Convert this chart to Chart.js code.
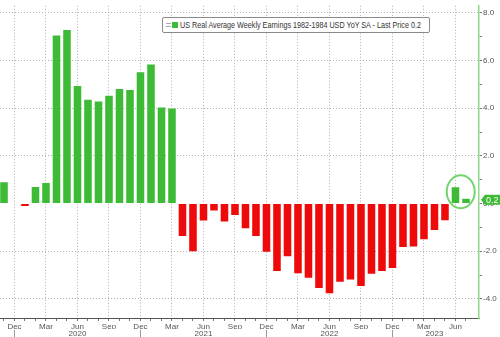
<!DOCTYPE html>
<html>
<head>
<meta charset="utf-8">
<script src="https://cdn.jsdelivr.net/npm/chart.js@4.4.1/dist/chart.umd.min.js"></script>
<style>
  html, body { margin: 0; padding: 0; background: #fff; }
  #wrap { position: relative; width: 500px; height: 337px; overflow: hidden; }
  #legend {
    position: absolute; left: 162px; top: 17px; width: 266px; height: 14px;
    border: 1px solid #8a8a8a; border-radius: 2px; background: #fff;
    font: 9px "Liberation Sans", Arial, sans-serif;
    color: #333; line-height: 14px; white-space: nowrap;
  }
  #legend .icon { position: absolute; left: 3px; top: 5px; width: 5px; height: 2px;
    border-top: 1px solid #aaa; border-bottom: 1px solid #aaa; }
  #legend .swatch { position: absolute; left: 9px; top: 4px; width: 6px; height: 6px; background: #3dbb36; }
  #legend .label { position: absolute; left: 17px; top: 0; transform: scaleX(0.8); transform-origin: 0 0; }
</style>
</head>
<body>
<div id="wrap">
  <canvas id="chart" width="500" height="337"></canvas>
  <div id="legend"><span class="icon"></span><span class="swatch"></span><span class="label">US Real Average Weekly Earnings 1982-1984 USD YoY SA - Last Price 0.2</span></div>
</div>
<script>
const months = [
  "Nov 2019", "Dec 2019",
  "Jan 2020", "Feb 2020", "Mar 2020", "Apr 2020", "May 2020", "Jun 2020",
  "Jul 2020", "Aug 2020", "Sep 2020", "Oct 2020", "Nov 2020", "Dec 2020",
  "Jan 2021", "Feb 2021", "Mar 2021", "Apr 2021", "May 2021", "Jun 2021",
  "Jul 2021", "Aug 2021", "Sep 2021", "Oct 2021", "Nov 2021", "Dec 2021",
  "Jan 2022", "Feb 2022", "Mar 2022", "Apr 2022", "May 2022", "Jun 2022",
  "Jul 2022", "Aug 2022", "Sep 2022", "Oct 2022", "Nov 2022", "Dec 2022",
  "Jan 2023", "Feb 2023", "Mar 2023", "Apr 2023", "May 2023", "Jun 2023",
  "Jul 2023"
];
// YoY %
const earnings = [
  0.9, 0.03,
  -0.1, 0.7, 0.86, 7.05, 7.28, 4.94,
  4.36, 4.28, 4.53, 4.81, 4.77, 5.51,
  5.84, 4.03, 3.99, -1.36, -2.0, -0.71,
  -0.29, -0.75, -0.48, -1.03, -1.36, -2.02,
  -2.83, -2.21, -2.92, -3.11, -3.54, -3.76,
  -3.28, -3.18, -3.46, -2.94, -2.83, -2.7,
  -1.82, -1.8, -1.5, -1.11, -0.7, 0.69,
  0.2
];
const monthTickNames = ["Dec", "Mar", "Jun", "Sep"];
const yearLabels = ["2020", "2021", "2022", "2023"];
const yearLabelAt = ["Jun 2020", "Jun 2021", "Jun 2022", "Apr 2023"];
const yearBreakAt = ["Dec 2019", "Dec 2020", "Dec 2021", "Dec 2022"];
const yTickValues = [-4, -3, -2, -1, 0, 1, 2, 3, 4, 5, 6, 7, 8];

const GREEN = "#3dbb36";
const RED = "#ee0a0a";
const GRID = "#b0b0b0";
const TEXT = "#555";
const FONT = "'Liberation Sans', Arial, sans-serif";

const lastIdx = earnings.length - 1;

const decorations = {
  id: "decorations",
  afterDraw(chart) {
    const { ctx, scales: { x, y } } = chart;

    // year separators under the month labels
    ctx.save();
    ctx.strokeStyle = "#999";
    ctx.lineWidth = 1;
    yearBreakAt.forEach((m) => {
      const px = Math.round(x.getPixelForValue(months.indexOf(m))) + 0.5;
      ctx.beginPath();
      ctx.moveTo(px, 330);
      ctx.lineTo(px, 337);
      ctx.stroke();
    });
    ctx.restore();

    // last price tag
    const last = earnings[lastIdx];
    const py = y.getPixelForValue(last) + 1;
    const left = chart.chartArea.right + 2;
    ctx.save();
    ctx.fillStyle = GREEN;
    ctx.beginPath();
    ctx.moveTo(left, py);
    ctx.lineTo(left + 4, py - 5);
    ctx.lineTo(500, py - 5);
    ctx.lineTo(500, py + 5);
    ctx.lineTo(left + 4, py + 5);
    ctx.closePath();
    ctx.fill();
    ctx.fillStyle = "#fff";
    ctx.font = "9px " + FONT;
    ctx.textBaseline = "middle";
    ctx.fillText(last.toFixed(1), left + 5, py + 0.5);
    ctx.restore();

    // hand-drawn circle round the last two readings
    const cx = (x.getPixelForValue(lastIdx - 1) + x.getPixelForValue(lastIdx)) / 2;
    const cy = y.getPixelForValue(0.5);
    ctx.save();
    ctx.strokeStyle = "#74d46c";
    ctx.lineWidth = 2;
    ctx.beginPath();
    ctx.ellipse(cx, cy, 14, 16.5, 0, 0, Math.PI * 2);
    ctx.stroke();
    ctx.restore();
  }
};

new Chart(document.getElementById("chart"), {
  type: "bar",
  data: {
    datasets: [{
      data: earnings.map((v, i) => ({ x: i, y: v })),
      backgroundColor: earnings.map((v) => (v >= 0 ? GREEN : RED)),
      borderWidth: 0,
      categoryPercentage: 0.8,
      barPercentage: 0.9
    }]
  },
  options: {
    responsive: false,
    animation: false,
    devicePixelRatio: 1,
    layout: { padding: 0 },
    plugins: { legend: { display: false }, tooltip: { enabled: false } },
    scales: {
      x: {
        type: "linear",
        position: "bottom",
        offset: false,
        min: -0.38,
        max: 45.24,
        afterBuildTicks: (scale) => {
          scale.ticks = months.map((m, i) => ({ value: i }));
        },
        afterFit: (scale) => { scale.height = 11; },
        ticks: {
          autoSkip: false,
          maxRotation: 0,
          padding: 1,
          color: TEXT,
          font: { family: FONT, size: 8 },
          callback: (v) => {
            const name = months[v] ? months[v].split(" ")[0] : "";
            return monthTickNames.includes(name) ? name : "";
          }
        },
        grid: {
          offset: false,
          color: (ctx) => {
            const m = ctx.tick && months[ctx.tick.value];
            return m && monthTickNames.includes(m.split(" ")[0]) ? GRID : "rgba(0,0,0,0)";
          },
          tickColor: "#777",
          tickLength: 3,
          tickBorderDash: []
        },
        border: { display: true, color: "#555", width: 1, dash: [1, 2] }
      },
      x2: {
        type: "linear",
        position: "bottom",
        offset: false,
        min: -0.38,
        max: 45.24,
        afterBuildTicks: (scale) => {
          scale.ticks = yearLabelAt.map((m) => ({ value: months.indexOf(m) }));
        },
        afterFit: (scale) => { scale.height = 8; },
        ticks: {
          autoSkip: false,
          maxRotation: 0,
          padding: 0,
          color: TEXT,
          font: { family: FONT, size: 8 },
          callback: (v) => yearLabels[yearLabelAt.indexOf(months[v])] || ""
        },
        grid: { display: false, drawTicks: false, offset: false },
        border: { display: false }
      },
      y: {
        position: "right",
        min: -4.8,
        max: 8.3,
        afterBuildTicks: (scale) => {
          scale.ticks = yTickValues.map((v) => ({ value: v }));
        },
        afterFit: (scale) => { scale.width = 21; },
        ticks: {
          padding: 1,
          color: TEXT,
          font: { family: FONT, size: 8 },
          callback: (v) => (v % 2 === 0 ? v.toFixed(1) : "")
        },
        grid: {
          color: (ctx) => (ctx.tick && ctx.tick.value % 2 === 0 && ctx.tick.value !== 0 ? GRID : "rgba(0,0,0,0)"),
          tickColor: "#777",
          tickLength: 3,
          tickBorderDash: []
        },
        border: { display: true, color: "#8fd98a", width: 1.5, dash: [1, 2] }
      }
    }
  },
  plugins: [decorations]
});
</script>
</body>
</html>
